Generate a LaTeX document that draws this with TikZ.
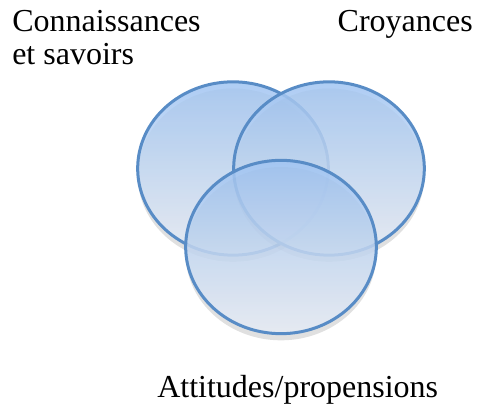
\documentclass[tikz,border=0pt]{standalone}
\usepackage{fontspec}
\setmainfont{Liberation Serif}
\usetikzlibrary{shapes.geometric,shadows}
\definecolor{bord}{RGB}{88,140,198}
\definecolor{haut}{RGB}{160,196,242}
\definecolor{milieu}{RGB}{150,176,212}
\definecolor{bas}{RGB}{232,237,245}
\tikzset{
cercle/.style={ellipse,draw=bord,line width=2.25pt,minimum width=143pt,minimum height=130pt,
  top color=haut,middle color=milieu,bottom color=bas,fill opacity=0.85,
  drop shadow={shadow xshift=0pt,shadow yshift=-5pt,opacity=0.12,fill=black}},
etiq/.style={font=\fontsize{24}{24.75}\selectfont,inner sep=0pt,align=left}
}
\begin{document}
\begin{tikzpicture}[x=0.75pt,y=-0.75pt]
\useasboundingbox (0,0) rectangle (480,406);

\node[cercle] (savoirs) at (233,168.5) {};
\node[cercle] (croyances) at (329,168.5) {};
\node[cercle] (attitudes) at (281,247) {};

\node[etiq,anchor=base west] (tsavoirs) at (12,65) {Connaissances\\et savoirs};
\node[etiq,anchor=base east] (tcroyances) at (473,32) {Croyances};
\node[etiq,anchor=base west] (tattitudes) at (157,398) {Attitudes/propensions};
\end{tikzpicture}
\end{document}
